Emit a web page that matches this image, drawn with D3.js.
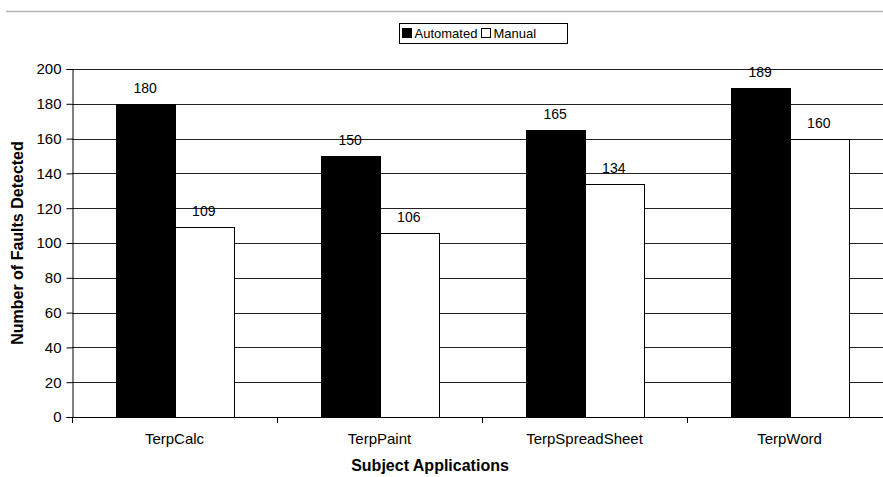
<!DOCTYPE html>
<html>
<head>
<meta charset="utf-8">
<script src="https://cdn.jsdelivr.net/npm/d3@7"></script>
<style>
  body { margin: 0; background: #fff; }
  text { font-family: "Liberation Sans", Arial, sans-serif; }
</style>
</head>
<body>
<div id="chart"></div>
<script>
// data
var apps = ["TerpCalc", "TerpPaint", "TerpSpreadSheet", "TerpWord"];
var automated = [180, 150, 165, 189];
var manual = [109, 106, 134, 160];
var seriesNames = ["Automated", "Manual"];
var yTicks = [0, 20, 40, 60, 80, 100, 120, 140, 160, 180, 200];

var width = 883, height = 477;
var plotLeft = 72, plotTop = 69, plotBottom = 417;
var bandW = 205;

var svg = d3.select("#chart").append("svg")
  .attr("width", width).attr("height", height);

// thin gray rule at the very top
svg.append("line")
  .attr("x1", 6).attr("x2", width).attr("y1", 11.5).attr("y2", 11.5)
  .attr("stroke", "#b4b4b4").attr("stroke-width", 1.5);

var x = d3.scaleBand().domain(apps).range([plotLeft, plotLeft + bandW * apps.length]).padding(0);
var xs = d3.scaleBand().domain(seriesNames).range([0, bandW]).paddingOuter(0.75).paddingInner(0);
var y = d3.scaleLinear().domain([0, 200]).range([plotBottom, plotTop]);

// gridlines
svg.append("g").selectAll("line")
  .data(yTicks.filter(function(t){ return t > 0; }))
  .enter().append("line")
  .attr("x1", plotLeft).attr("x2", width)
  .attr("y1", function(d){ return Math.round(y(d)) + 0.5; })
  .attr("y2", function(d){ return Math.round(y(d)) + 0.5; })
  .attr("stroke", "#222").attr("stroke-width", 1);

var rows = apps.map(function(a, i){
  return [{app: a, s: "Automated", v: automated[i]}, {app: a, s: "Manual", v: manual[i]}];
});

var groups = svg.append("g").selectAll("g")
  .data(rows).enter().append("g")
  .attr("transform", function(d){ return "translate(" + x(d[0].app) + ",0)"; });

groups.selectAll("rect")
  .data(function(d){ return d; })
  .enter().append("rect")
  .attr("x", function(d){ return Math.round(xs(d.s)) + 0.5; })
  .attr("y", function(d){ return Math.round(y(d.v)) + 0.5; })
  .attr("width", Math.round(xs.bandwidth()))
  .attr("height", function(d){ return plotBottom - Math.round(y(d.v)); })
  .attr("fill", function(d){ return d.s == "Automated" ? "#000" : "#fff"; })
  .attr("stroke", "#000").attr("stroke-width", 1);

groups.selectAll("text")
  .data(function(d){ return d; })
  .enter().append("text")
  .attr("x", function(d){ return xs(d.s) + xs.bandwidth() / 2; })
  .attr("y", function(d){ return y(d.v) - 11; })
  .attr("text-anchor", "middle")
  .attr("font-size", 14)
  .attr("fill", "#000")
  .text(function(d){ return d.v; });

// y axis
var yAxis = d3.axisLeft(y).tickValues(yTicks).tickSize(6).tickPadding(5);
var gy = svg.append("g").attr("transform", "translate(" + (plotLeft + 0.5) + ",0)").call(yAxis);
gy.select(".domain").attr("stroke", "#000");
gy.selectAll("text").attr("font-size", 15).attr("font-family", "Liberation Sans, Arial, sans-serif").attr("fill", "#000");

// x axis baseline and ticks at band edges
svg.append("line")
  .attr("x1", plotLeft).attr("x2", width)
  .attr("y1", plotBottom + 0.5).attr("y2", plotBottom + 0.5)
  .attr("stroke", "#000");
svg.append("g").selectAll("line")
  .data(apps).enter().append("line")
  .attr("x1", function(d){ return Math.round(x(d)) + 0.5; })
  .attr("x2", function(d){ return Math.round(x(d)) + 0.5; })
  .attr("y1", plotBottom).attr("y2", plotBottom + 6)
  .attr("stroke", "#000");
svg.append("g").selectAll("text")
  .data(apps).enter().append("text")
  .attr("x", function(d){ return x(d) + x.bandwidth() / 2; })
  .attr("y", 444)
  .attr("text-anchor", "middle")
  .attr("font-size", 15)
  .text(function(d){ return d; });

// axis titles
svg.append("text")
  .attr("x", 430).attr("y", 471)
  .attr("text-anchor", "middle")
  .attr("font-size", 16).attr("font-weight", "bold")
  .text("Subject Applications");
svg.append("text")
  .attr("transform", "translate(23,243) rotate(-90)")
  .attr("text-anchor", "middle")
  .attr("font-size", 16).attr("font-weight", "bold")
  .text("Number of Faults Detected");

// legend
var lg = svg.append("g").attr("transform", "translate(399.5,23.5)");
lg.append("rect").attr("width", 168).attr("height", 20)
  .attr("fill", "#fff").attr("stroke", "#000");
var items = lg.selectAll("g.item").data(seriesNames).enter().append("g")
  .attr("transform", function(d, i){ return "translate(" + (i == 0 ? 3 : 82) + ",0)"; });
items.append("rect")
  .attr("x", 0).attr("y", 5).attr("width", 9).attr("height", 9)
  .attr("fill", function(d){ return d == "Automated" ? "#000" : "#fff"; })
  .attr("stroke", "#000");
items.append("text")
  .attr("x", 12).attr("y", 14.5)
  .attr("font-size", 13)
  .text(function(d){ return d; });
</script>
</body>
</html>
